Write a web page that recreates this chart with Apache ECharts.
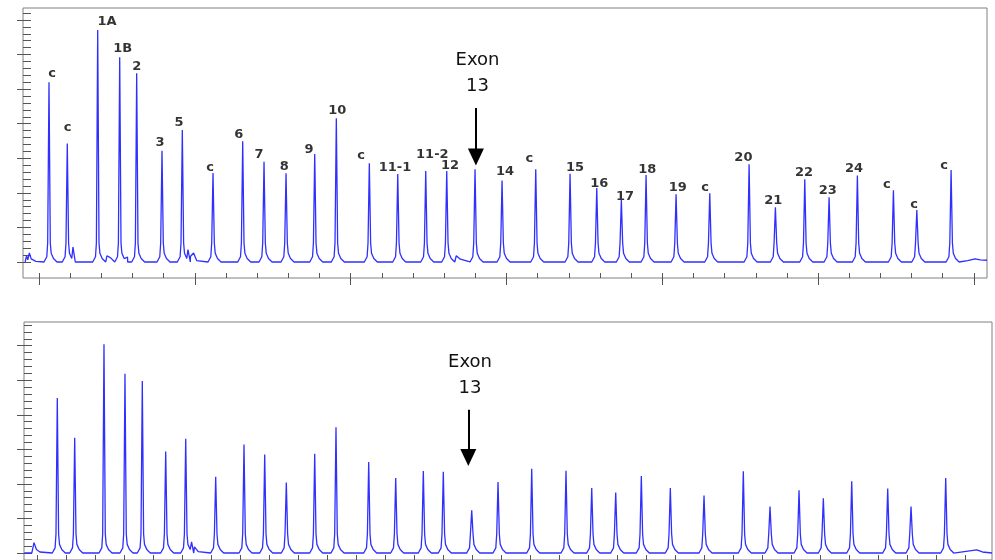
<!DOCTYPE html>
<html><head><meta charset="utf-8">
<script src="https://cdn.jsdelivr.net/npm/echarts@6/dist/echarts.min.js"></script>
<style>html,body{margin:0;padding:0;background:#fff;overflow:hidden}#c{width:995px;height:560px}</style>
</head><body><div id="c"></div>
<script>
// ---------- Top panel (reference sample) ----------
const topPeakX = [103.21,109.08,118.84,125.90,131.35,139.47,145.99,155.84,165.37,172.21,179.27,188.48,195.41,206.00,215.12,224.10,230.84,239.92,248.59,259.40,270.41,278.98,286.87,294.80,304.43,315.24,327.86,336.30,345.73,353.53,362.61,374.17,381.68,392.68];
const topPeakH = [5200,3430,6710,5920,5460,3220,3820,2575,3490,2900,2565,3125,4155,2855,2545,2630,2630,2680,2360,2680,2555,2140,1795,2517,1958,1987,2826,1580,2390,1870,2500,2075,1505,2660];
// small extra trace points (noise / shoulders) [x, y]
const topExtra = [[95.55,0],[96.0,180],[96.4,60],[96.9,260],[97.5,90],[99.0,20],[110.9,430],[121.8,180],[123.0,120],[128.4,140],[147.8,360],[148.6,160],[149.6,260],[150.6,40],[233.9,180],[235.2,80],[398.0,40],[400.4,90],[402.0,60],[404.2,50]];
const topLabelText = ['c','c','1A','1B','2','3','5','c','6','7','8','9','10','c','11-1','11-2','12','14','c','15','16','17','18','19','c','20','21','22','23','24','c','c','c'];
const topLabelX = [104.17,109.21,121.82,126.86,131.35,138.83,144.93,154.88,164.09,170.60,178.72,186.65,195.73,203.34,214.25,226.22,231.90,249.55,257.35,272.02,279.81,288.06,295.22,304.97,313.74,326.03,335.65,345.51,353.11,361.55,372.05,380.81,390.44];
const topLabelY = [5438,3885,6951,6161,5649,3442,4030,2719,3674,3095,2757,3240,4368,3075,2728,3115,2786,2612,2979,2728,2277,1889,2682,2149,2149,3017,1773,2583,2062,2690,2227,1669,2786];
const topArrow = {x: 240.2, from: 4455, to: 3037, textX: 240.7, textY: 5453};

// ---------- Bottom panel (patient sample) ----------
const botPeakX = [107.00,113.00,123.10,130.34,136.31,144.38,151.28,161.62,171.38,178.52,185.97,195.76,203.10,214.38,223.69,233.21,240.10,249.90,258.97,270.59,282.41,291.28,299.55,308.38,318.38,330.00,343.55,352.76,362.76,371.14,380.93,393.34,401.38,413.34];
const botPeakH = [4487,3334,6043,5187,4976,2940,3305,2210,3141,2853,2037,2873,3640,2631,2170,2372,2354,1239,2055,2440,2383,1882,1749,2228,1882,1662,2363,1345,1816,1585,2075,1864,1345,2170];
const botExtra = [[95.6,0],[98.2,0],[98.97,300],[99.8,100],[101.0,30],[153.3,320],[154.3,180],[155.6,40],[424.03,90],[426.0,30],[429.3,0]];
const botArrow = {x: 248.72, from: 4150, to: 2767, textX: 249.3, textY: 5150};

const exonText = 'Exon\n13';

function range(a, b, s) { const r = []; for (let v = a; v <= b + 1e-9; v += s) r.push(Math.round(v * 100) / 100); return r; }

// peak outline (style): x offsets and skirt levels around each apex
const skirtY = [0, 150, 550, null, 550, 250, 100, 0];
function buildTrace(px, ph, extra, dx) {
  const pts = [];
  for (let i = 0; i < px.length; i++) {
    for (let k = 0; k < dx.length; k++) {
      pts.push([px[i] + dx[k], skirtY[k] === null ? ph[i] : skirtY[k]]);
    }
  }
  extra.forEach(p => pts.push(p));
  pts.sort((a, b) => a[0] - b[0]);
  return pts;
}

const topTrace = buildTrace(topPeakX, topPeakH, topExtra, [-1.6, -0.71, -0.42, 0, 0.42, 0.71, 1.44, 2.57]);
const botTrace = buildTrace(botPeakX, botPeakH, botExtra, [-1.72, -0.76, -0.45, 0, 0.45, 0.76, 1.55, 2.76]);

const tickColor = '#555';
function xAx(grid, min, max, vals, inside, len) {
  return { type: 'value', gridIndex: grid, min: min, max: max, position: 'bottom',
    axisLine: { show: false, onZero: false },
    axisTick: { show: true, inside: inside, length: len, customValues: vals, lineStyle: { color: tickColor, width: 1 } },
    axisLabel: { show: false }, splitLine: { show: false } };
}
function yAx(grid, min, max, vals, inside, len) {
  return { type: 'value', gridIndex: grid, min: min, max: max, position: 'left',
    axisLine: { show: false, onZero: false },
    axisTick: { show: true, inside: inside, length: len, customValues: vals, lineStyle: { color: tickColor, width: 1 } },
    axisLabel: { show: false }, splitLine: { show: false } };
}

const peakLabel = { show: true, position: 'inside', formatter: '{b}', color: '#000', fontFamily: 'DejaVu Sans', fontWeight: 'bold', fontSize: 13 };

function arrowMark(a) {
  return {
    silent: true, symbol: ['none', 'triangle'], symbolSize: [16, 17],
    lineStyle: { color: '#000', width: 2, type: 'solid' }, label: { show: false },
    data: [[{ coord: [a.x, a.from] }, { coord: [a.x, a.to] }]]
  };
}
function exonMark(a) {
  return {
    silent: true, symbol: 'circle', symbolSize: 0,
    label: { show: true, position: 'inside', formatter: exonText, color: '#111', fontFamily: 'DejaVu Sans', fontSize: 18, lineHeight: 26 },
    data: [{ coord: [a.textX, a.textY] }]
  };
}

const traceStyle = { color: '#2f2fff', width: 1.3 };

const chart = echarts.init(document.getElementById('c'), null, { renderer: 'canvas' });
chart.setOption({
  animation: false,
  backgroundColor: '#fff',
  grid: [
    { left: 23, top: 8, right: 8, height: 270, show: true, borderColor: '#808080', borderWidth: 1, backgroundColor: 'transparent' },
    { left: 24, top: 322, right: 3, height: 239, show: true, borderColor: '#808080', borderWidth: 1, backgroundColor: 'transparent' }
  ],
  xAxis: [
    xAx(0, 94.87, 404.2, range(100, 400, 10), true, 5),
    xAx(0, 94.87, 404.2, range(100, 400, 50), false, 7),
    xAx(1, 95.52, 429.3, range(100, 420, 10), true, 5)
  ],
  yAxis: [
    yAx(0, -463, 7347, range(0, 7200, 200), true, 8),
    yAx(0, -463, 7347, range(0, 7000, 1000), false, 6),
    yAx(1, -202, 6686, range(0, 6600, 200), true, 8),
    yAx(1, -202, 6686, range(0, 6000, 1000), false, 7)
  ],
  series: [
    { type: 'line', xAxisIndex: 0, yAxisIndex: 0, data: topTrace, showSymbol: false, symbol: 'none', silent: true,
      lineStyle: traceStyle, markLine: arrowMark(topArrow), markPoint: exonMark(topArrow) },
    { type: 'scatter', xAxisIndex: 0, yAxisIndex: 0, symbolSize: 0, silent: true, label: peakLabel,
      data: topLabelText.map((t, i) => ({ name: t, value: [topLabelX[i], topLabelY[i]] })) },
    { type: 'line', xAxisIndex: 2, yAxisIndex: 2, data: botTrace, showSymbol: false, symbol: 'none', silent: true,
      lineStyle: traceStyle, markLine: arrowMark(botArrow), markPoint: exonMark(botArrow) }
  ]
});
</script></body></html>
